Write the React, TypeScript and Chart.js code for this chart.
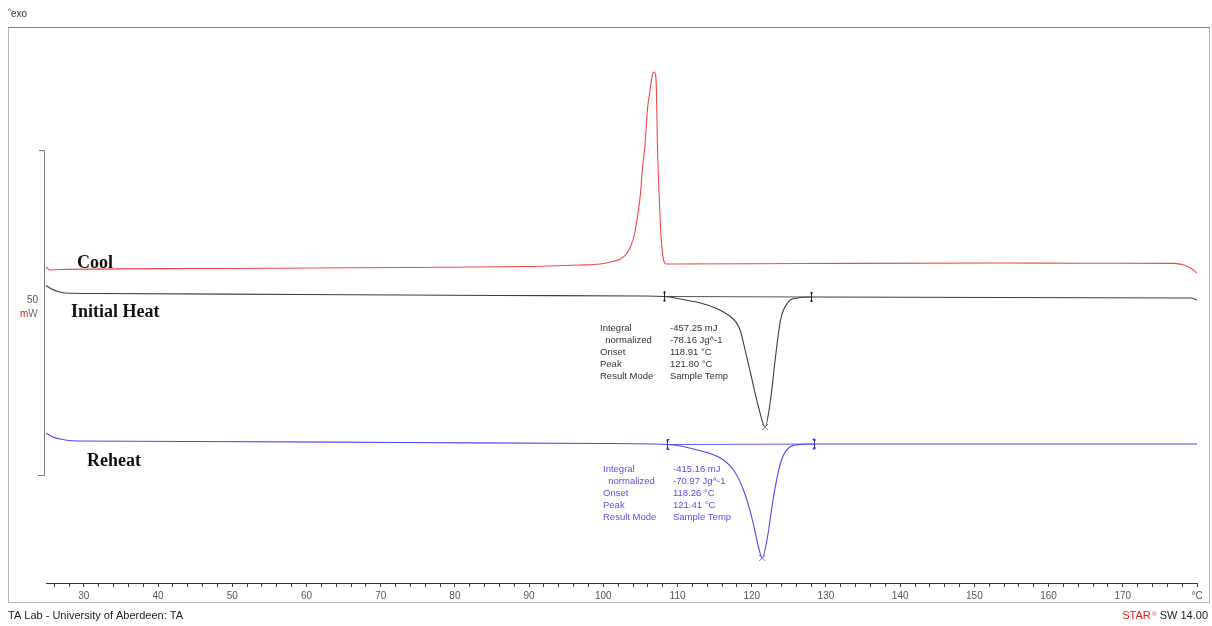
import React, { useEffect, useRef } from "react";
import { Chart, registerables } from "chart.js";

Chart.register(...registerables);

// ---- Data (temperature °C / heat flow mW, arbitrary offsets) ----
const coolT = [24.9, 25.41, 26.76, 45.65, 72.62, 92.85, 96.9, 99.6, 100.95, 102.3, 103.11, 103.65, 104.18, 104.59, 104.99, 105.26, 105.67, 105.94, 106.34, 106.61, 106.88, 107.1, 107.32, 107.55, 107.78, 108.13, 108.5, 126.57, 153.55, 164.34, 176.88, 178.23, 179.17, 180.0];
const coolMW = [48.62, 48.15, 48.23, 48.38, 48.54, 48.77, 48.92, 49.08, 49.38, 49.85, 50.62, 51.69, 53.54, 56.31, 59.69, 63.54, 68.15, 72.77, 76.15, 78.15, 78.62, 77.6, 66.15, 58.92, 53.23, 49.69, 49.08, 49.15, 49.23, 49.2, 49.18, 48.92, 48.42, 47.69];

const heatT = [24.9, 25.68, 26.49, 27.44, 32.16, 59.13, 86.11, 104.99, 108.23, 110.39, 113.09, 115.11, 116.19, 117.14, 117.9, 118.48, 118.89, 119.83, 120.91, 121.8, 122.53, 123.2, 123.88, 124.82, 126.17, 127.92, 153.55, 179.18, 180.0];
const heatMW = [45.77, 45.23, 44.85, 44.62, 44.54, 44.38, 44.23, 44.15, 44.08, 43.69, 43.08, 42.31, 41.69, 41.0, 40.1, 38.77, 36.92, 32.31, 27.08, 24.0, 28.15, 34.77, 40.46, 43.08, 43.85, 44.0, 43.92, 43.85, 43.54];

const reheatT = [24.9, 25.68, 26.76, 29.06, 45.65, 72.62, 99.6, 108.64, 112.68, 115.78, 117.54, 118.89, 120.1, 120.91, 121.41, 122.12, 122.93, 123.88, 124.95, 126.57, 128.33, 153.55, 180.0];
const reheatMW = [23.08, 22.54, 22.15, 21.85, 21.77, 21.62, 21.46, 21.31, 20.46, 19.23, 17.38, 14.31, 9.69, 5.54, 3.85, 7.08, 13.23, 18.46, 20.77, 21.31, 21.38, 21.38, 21.38];

// integration limits (°C) and baseline levels (mW)
const heatLimitsT = [108.23, 127.92];
const heatLimitsMW = [44.08, 44.0];
const reheatLimitsT = [108.64, 128.33];
const reheatLimitsMW = [21.31, 21.38];

// peaks
const peakT = [121.8, 121.41];
const peakMW = [24.0, 3.85];

const xTicks = [26, 28, 30, 32, 34, 36, 38, 40, 42, 44, 46, 48, 50, 52, 54, 56, 58, 60, 62, 64, 66, 68, 70, 72, 74, 76, 78, 80, 82, 84, 86, 88, 90, 92, 94, 96, 98, 100, 102, 104, 106, 108, 110, 112, 114, 116, 118, 120, 122, 124, 126, 128, 130, 132, 134, 136, 138, 140, 142, 144, 146, 148, 150, 152, 154, 156, 158, 160, 162, 164, 166, 168, 170, 172, 174, 176, 178, 180];
const xLabelValues = [30, 40, 50, 60, 70, 80, 90, 100, 110, 120, 130, 140, 150, 160, 170];

const heatLabels = ["Integral", "  normalized", "Onset", "Peak", "Result Mode"];
const heatValues = ["-457.25 mJ", "-78.16 Jg^-1", "118.91 °C", "121.80 °C", "Sample Temp"];
const reheatLabels = ["Integral", "  normalized", "Onset", "Peak", "Result Mode"];
const reheatValues = ["-415.16 mJ", "-70.97 Jg^-1", "118.26 °C", "121.41 °C", "Sample Temp"];

const curveNames = ["Cool", "Initial Heat", "Reheat"];
const scaleBarMW = 50;

const RED = "#f04848";
const BLACK = "#3c3c3c";
const BLUE = "#4a4af5";
const BLUE_TEXT = "#5a4de8";
const SANS = '"Liberation Sans", Arial, sans-serif';
const SERIF = '"Liberation Serif", "Times New Roman", serif';

const zip = (xs: number[], ys: number[]) => xs.map((x, i) => ({ x, y: ys[i] }));

const decorPlugin = {
  id: "decor",
  beforeDraw(chart: any) {
    const ctx = chart.ctx;
    ctx.save();
    ctx.fillStyle = "#ffffff";
    ctx.fillRect(0, 0, chart.width, chart.height);
    // frame
    ctx.strokeStyle = "#b8b8b8";
    ctx.lineWidth = 1;
    ctx.strokeRect(8.5, 27.5, 1201, 575);
    ctx.strokeStyle = "#808080";
    ctx.beginPath();
    ctx.moveTo(8, 27.5);
    ctx.lineTo(1210, 27.5);
    ctx.stroke();
    ctx.restore();
  },
  afterDraw(chart: any) {
    const ctx = chart.ctx;
    const xs = chart.scales.x;
    const ys = chart.scales.y;
    ctx.save();

    // ^exo
    ctx.fillStyle = "#333";
    ctx.textBaseline = "middle";
    ctx.textAlign = "left";
    ctx.font = `7px ${SANS}`;
    ctx.fillText("^", 8, 11);
    ctx.font = `10px ${SANS}`;
    ctx.fillText("exo", 11, 14);

    // scale bar (50 mW)
    const barLen = ys.getPixelForValue(0) - ys.getPixelForValue(scaleBarMW);
    const barBottom = 475.5;
    const barTop = barBottom - barLen;
    ctx.strokeStyle = "#7a7a7a";
    ctx.lineWidth = 1;
    ctx.beginPath();
    ctx.moveTo(44.5, barTop);
    ctx.lineTo(44.5, barBottom);
    ctx.moveTo(39, barTop);
    ctx.lineTo(44.5, barTop);
    ctx.moveTo(38, barBottom);
    ctx.lineTo(44.5, barBottom);
    ctx.stroke();
    ctx.font = `10px ${SANS}`;
    ctx.fillStyle = "#555";
    ctx.textAlign = "right";
    ctx.fillText(String(scaleBarMW), 38, 300);
    ctx.textAlign = "left";
    ctx.fillStyle = "#c02828";
    ctx.fillText("m", 20, 314);
    const mw = ctx.measureText("m").width;
    ctx.fillStyle = "#6a6a7a";
    ctx.fillText("W", 20 + mw, 314);

    // curve names
    ctx.fillStyle = "#111";
    ctx.textBaseline = "alphabetic";
    ctx.font = `bold 18px ${SERIF}`;
    ctx.fillText(curveNames[0], 77, 268);
    ctx.fillText(curveNames[1], 71, 317);
    ctx.fillText(curveNames[2], 87, 466);

    // annotation blocks
    ctx.textBaseline = "middle";
    ctx.font = `9.5px ${SANS}`;
    const drawBlock = (labels: string[], values: string[], x0: number, x1: number, y0: number, color: string) => {
      ctx.fillStyle = color;
      labels.forEach((l, i) => {
        const y = y0 + i * 12.2;
        ctx.fillText(l, x0, y);
        ctx.fillText(values[i], x1, y);
      });
    };
    drawBlock(heatLabels, heatValues, 600, 670, 328, "#333");
    drawBlock(reheatLabels, reheatValues, 603, 673, 469, BLUE_TEXT);

    // integration limit brackets
    const drawBracket = (T: number, v: number, color: string, side: number) => {
      const px = Math.round(xs.getPixelForValue(T)) + 0.5;
      const py = ys.getPixelForValue(v);
      ctx.strokeStyle = color;
      ctx.fillStyle = color;
      ctx.lineWidth = 1;
      ctx.beginPath();
      ctx.moveTo(px, py - 5);
      ctx.lineTo(px, py + 5);
      if (side !== 0) {
        ctx.moveTo(px, py - 5);
        ctx.lineTo(px + 2 * side, py - 5);
        ctx.moveTo(px, py + 5);
        ctx.lineTo(px + 2 * side, py + 5);
      }
      ctx.stroke();
      ctx.fillRect(px - 1, py - 5, 2, 2);
      ctx.fillRect(px - 1, py + 3, 2, 2);
    };
    drawBracket(heatLimitsT[0], heatLimitsMW[0], "#222", 0);
    drawBracket(heatLimitsT[1], heatLimitsMW[1], "#222", 0);
    drawBracket(reheatLimitsT[0], reheatLimitsMW[0], "#2a2ad0", 1);
    drawBracket(reheatLimitsT[1], reheatLimitsMW[1], "#2a2ad0", -1);

    // peak crosses
    const drawX = (T: number, v: number, color: string) => {
      const px = xs.getPixelForValue(T);
      const py = ys.getPixelForValue(v);
      ctx.strokeStyle = color;
      ctx.beginPath();
      ctx.moveTo(px - 3, py - 3);
      ctx.lineTo(px + 3, py + 3);
      ctx.moveTo(px + 3, py - 3);
      ctx.lineTo(px - 3, py + 3);
      ctx.stroke();
    };
    drawX(peakT[0], peakMW[0], "#777");
    drawX(peakT[1], peakMW[1], "#7070f0");

    // footer
    ctx.textBaseline = "middle";
    ctx.textAlign = "left";
    ctx.font = `11px ${SANS}`;
    ctx.fillStyle = "#222";
    ctx.fillText("TA Lab - University of Aberdeen: TA", 8, 616);
    ctx.textAlign = "right";
    const rightText = "SW 14.00";
    ctx.fillText(rightText, 1208, 616);
    const rw = ctx.measureText(rightText).width;
    ctx.fillStyle = "#e02020";
    ctx.font = `6px ${SANS}`;
    ctx.fillText("®", 1208 - rw - 3, 614);
    ctx.font = `11px ${SANS}`;
    ctx.fillText("STAR", 1208 - rw - 9, 616);

    ctx.restore();
  },
};

export default function App() {
  const ref = useRef<HTMLCanvasElement>(null);
  useEffect(() => {
    if (!ref.current) return;
    const chart = new Chart(ref.current, {
      type: "line",
      data: {
        datasets: [
          { data: zip(coolT, coolMW), borderColor: RED, borderWidth: 1.1, pointRadius: 0, cubicInterpolationMode: "monotone" },
          { data: zip(heatT, heatMW), borderColor: BLACK, borderWidth: 1.1, pointRadius: 0, cubicInterpolationMode: "monotone" },
          { data: zip(reheatT, reheatMW), borderColor: BLUE, borderWidth: 1.1, pointRadius: 0, cubicInterpolationMode: "monotone" },
          { data: zip(heatLimitsT, heatLimitsMW), borderColor: "#555", borderWidth: 1, pointRadius: 0 },
          { data: zip(reheatLimitsT, reheatLimitsMW), borderColor: "#5a5af0", borderWidth: 1, pointRadius: 0 },
        ],
      } as any,
      options: {
        animation: false,
        responsive: false,
        maintainAspectRatio: false,
        parsing: false,
        normalized: true,
        layout: { padding: { left: 46, right: 15, top: 27, bottom: 13 } },
        plugins: { legend: { display: false }, tooltip: { enabled: false } },
        scales: {
          x: {
            type: "linear",
            min: 24.9,
            max: 180,
            afterFit: (s: any) => {
              s.height = 30;
            },
            afterBuildTicks: (s: any) => {
              s.ticks = xTicks.map((v) => ({ value: v }));
            },
            ticks: {
              autoSkip: false,
              maxRotation: 0,
              minRotation: 0,
              padding: 3,
              color: "#555",
              font: { family: "Liberation Sans", size: 10 },
              callback: (v: any) => (v === 180 ? "°C" : xLabelValues.includes(v) ? String(v) : ""),
            },
            grid: { drawOnChartArea: false, drawTicks: true, tickLength: 4, color: "#444" },
            border: { display: true, color: "#333", width: 1 },
          },
          y: { type: "linear", display: false, min: 0, max: 85.54 },
        },
      } as any,
      plugins: [decorPlugin],
    });
    return () => chart.destroy();
  }, []);
  return (
    <div style={{ position: "fixed", left: 0, top: 0, width: 1212, height: 626, background: "#fff" }}>
      <canvas ref={ref} width={1212} height={626} style={{ display: "block" }} />
    </div>
  );
}
